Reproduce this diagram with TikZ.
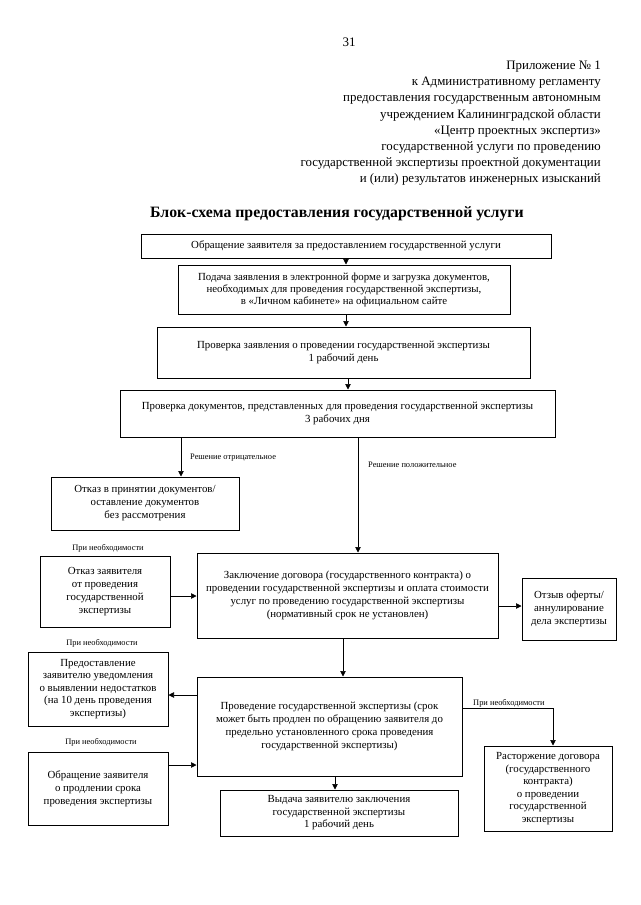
\documentclass[tikz,border=0pt]{standalone}
\usepackage{fontspec}
\setmainfont{Liberation Serif}
\usetikzlibrary{arrows.meta}
\begin{document}
\begin{tikzpicture}[x=1pt,y=-1pt,
  box/.style={draw,line width=1pt,inner sep=0pt,align=center,
    font=\fontsize{10.85}{13}\selectfont},
  arr/.style={line width=0.7pt,-{Triangle[length=5.5pt,width=5.5pt]}},
  lnk/.style={line width=0.7pt},
  lbl/.style={font=\fontsize{8.4}{10}\selectfont,inner sep=0pt}]
\useasboundingbox (0,0) rectangle (640,905);
\node (pg) at (349,42) {\fontsize{13}{15}\selectfont 31};
\node (hdr) [anchor=north east,align=right,inner sep=0pt,font=\fontsize{12.9}{16.1}\selectfont] at (601,61)
 {Приложение № 1\\к Административному регламенту\\предоставления государственным автономным\\учреждением Калининградской области\\«Центр проектных экспертиз»\\государственной услуги по проведению\\государственной экспертизы проектной документации\\и (или) результатов инженерных изысканий};
\node (ttl) at (337,214) {\fontsize{15.8}{18}\selectfont\bfseries Блок-схема предоставления государственной услуги};

\node[box,minimum width=410,minimum height=24] (b1) at (346,246) {Обращение заявителя за предоставлением государственной услуги};
\node[box,minimum width=332,minimum height=49,font=\fontsize{10.85}{12}\selectfont] (b2) at (344,289.5) {Подача заявления в электронной форме и загрузка документов,\\необходимых для проведения государственной экспертизы,\\в «Личном кабинете» на официальном сайте};
\node[box,minimum width=373,minimum height=51] (b3) at (343.5,352.5) {Проверка заявления о проведении государственной экспертизы\\1 рабочий день};
\node[box,minimum width=435,minimum height=47] (b4) at (337.5,413.5) {Проверка документов, представленных для проведения государственной экспертизы\\3 рабочих дня};
\node[box,minimum width=188,minimum height=53] (b5) at (145,503.5) {Отказ в принятии документов/\\оставление документов\\без рассмотрения};
\node[box,minimum width=130,minimum height=71] (b6) at (105,591.5) {Отказ заявителя\\от проведения\\государственной\\экспертизы};
\node[box,minimum width=301,minimum height=85] (b7) at (347.5,595.5) {Заключение договора (государственного контракта) о\\проведении государственной экспертизы и оплата стоимости\\услуг по проведению государственной экспертизы\\(нормативный срок не установлен)};
\node[box,minimum width=94,minimum height=62] (b8) at (569,609) {Отзыв оферты/\\аннулирование\\дела экспертизы};
\node[box,minimum width=265,minimum height=99] (b9) at (329.5,726.5) {Проведение государственной экспертизы (срок\\может быть продлен по обращению заявителя до\\предельно установленного срока проведения\\государственной экспертизы)};
\node[box,minimum width=140,minimum height=74,font=\fontsize{10.85}{12.5}\selectfont] (b10) at (98,689) {Предоставление\\заявителю уведомления\\о выявлении недостатков\\(на 10 день проведения\\экспертизы)};
\node[box,minimum width=140,minimum height=73] (b11) at (98,788.5) {Обращение заявителя\\о продлении срока\\проведения экспертизы};
\node[box,minimum width=238,minimum height=46,font=\fontsize{10.85}{12.5}\selectfont] (b12) at (339,813) {Выдача заявителю заключения\\государственной экспертизы\\1 рабочий день};
\node[box,minimum width=128,minimum height=85,font=\fontsize{10.85}{12.5}\selectfont] (b13) at (548,788.5) {Расторжение договора\\(государственного\\контракта)\\о проведении\\государственной\\экспертизы};

\draw[arr] (346,0 |- b1.south) -- (346,0 |- b2.north);
\draw[arr] (346,0 |- b2.south) -- (346,0 |- b3.north);
\draw[arr] (348,0 |- b3.south) -- (348,0 |- b4.north);
\draw[arr] (181,0 |- b4.south) -- (181,0 |- b5.north);
\draw[arr] (358,0 |- b4.south) -- (358,0 |- b7.north);
\draw[arr] (b6.east |- 0,596) -- (b7.west |- 0,596);
\draw[arr] (b7.east |- 0,606) -- (b8.west |- 0,606);
\draw[arr] (343,0 |- b7.south) -- (343,0 |- b9.north);
\draw[arr] (b9.west |- 0,695) -- (b10.east |- 0,695);
\draw[arr] (b11.east |- 0,765) -- (b9.west |- 0,765);
\draw[arr] (335,0 |- b9.south) -- (335,0 |- b12.north);
\coordinate (c1) at (553,708);
\draw[lnk] (b9.east |- c1) -- (c1);
\draw[arr] (c1) -- (c1 |- b13.north);

\node[lbl,anchor=west] (l1) at (190,458) {Решение отрицательное};
\node[lbl,anchor=west] (l2) at (368,465) {Решение положительное};
\node[lbl] (l3) at (108,548) {При необходимости};
\node[lbl] (l4) at (102,643) {При необходимости};
\node[lbl] (l5) at (101,742) {При необходимости};
\node[lbl,anchor=west] (l6) at (473,703) {При необходимости};
\end{tikzpicture}
\end{document}
